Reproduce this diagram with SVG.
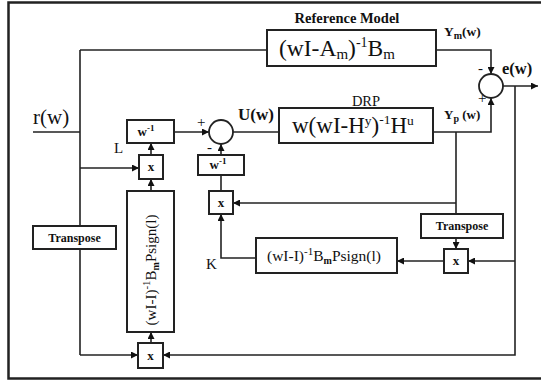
<svg xmlns="http://www.w3.org/2000/svg" width="541" height="381" viewBox="0 0 541 381">
<defs>
<style>
.bx{fill:#fff;stroke:#222;stroke-width:2}
.ln{fill:none;stroke:#222;stroke-width:1.6}
.ar{fill:none;stroke:#222;stroke-width:1.6;marker-end:url(#ah)}
.t{font-family:"Liberation Serif","Times New Roman",serif;fill:#111}
.b{font-weight:bold}
</style>
<marker id="ah" viewBox="0 0 10 10" refX="10" refY="5" markerWidth="7" markerHeight="7" orient="auto" markerUnits="userSpaceOnUse">
<path d="M0,0 L10,5 L0,10 z" fill="#111"/>
</marker>
</defs>
<rect width="541" height="381" fill="#fff"/>
<path d="M541,2.5 H8.5 V378.5 H541" fill="none" stroke="#222" stroke-width="2.5"/>

<g id="connectors">
<path class="ln" d="M33,132 H80 M80,50 V355"/>
<path class="ln" d="M80,50 H267"/>
<path class="ar" d="M80,168 H139"/>
<path class="ar" d="M80,355 H138"/>
<path class="ar" d="M151,155 V143"/>
<path class="ar" d="M151,191 V179"/>
<path class="ar" d="M151,343 V332"/>
<path class="ar" d="M174,132 H209"/>
<path class="ar" d="M221,155 V144"/>
<path class="ln" d="M221,191 V175"/>
<path class="ln" d="M233,132 H279"/>
<path class="ar" d="M433,132 H491 V98"/>
<path class="ar" d="M436,50 H491 V74"/>
<path class="ar" d="M503,86 H538"/>
<path class="ar" d="M515,86 V355 H163"/>
<path class="ar" d="M515,261 H468"/>
<path class="ln" d="M456,132 V214"/>
<path class="ar" d="M456,203 H233"/>
<path class="ar" d="M456,238 V249"/>
<path class="ar" d="M444,261 H397"/>
<path class="ar" d="M256,258 H221 V214"/>
</g>

<g id="input-r">
<text class="t" x="33" y="124" font-size="21">r(w)</text>
</g>

<g id="reference-model">
<rect class="bx" x="267" y="30" width="169" height="36"/>
<text class="t b" x="347" y="23" font-size="14.5" text-anchor="middle">Reference Model</text>
<text class="t" x="279" y="56" font-size="23.5">(wI-A<tspan dy="3" font-size="15">m</tspan><tspan dy="-3">)</tspan><tspan dy="-9" font-size="14">-1</tspan><tspan dy="9">B</tspan><tspan dy="3" font-size="15">m</tspan></text>
</g>

<g id="drp">
<rect class="bx" x="279" y="108" width="154" height="35"/>
<text class="t" x="366" y="106" font-size="14.5" text-anchor="middle">DRP</text>
<text class="t" x="292" y="133" font-size="23">w(wI-H<tspan dy="-8" font-size="13.5">y</tspan><tspan dy="8">)</tspan><tspan dy="-9" font-size="13.5">-1</tspan><tspan dy="9">H</tspan><tspan dy="-8" font-size="13.5">u</tspan></text>
</g>

<g id="sum1">
<circle cx="221" cy="132" r="12" fill="#fff" stroke="#222" stroke-width="1.8"/>
<text class="t" x="197" y="127" font-size="15">+</text>
<text class="t" x="207" y="152" font-size="15">-</text>
<text class="t b" x="238" y="120" font-size="17">U(w)</text>
</g>

<g id="sum2">
<circle cx="491" cy="86" r="12" fill="#fff" stroke="#222" stroke-width="1.8"/>
<text class="t" x="478" y="73" font-size="15">-</text>
<text class="t" x="478" y="103" font-size="15">+</text>
<text class="t b" x="444" y="36" font-size="13.5">Y<tspan dy="3" font-size="10">m</tspan><tspan dy="-3">(w)</tspan></text>
<text class="t b" x="444" y="119" font-size="13">Y<tspan dy="3" font-size="10">p</tspan><tspan dy="-3"> (w)</tspan></text>
<text class="t b" x="502" y="74" font-size="16.5">e(w)</text>
</g>

<g id="w-inv-1">
<rect class="bx" x="127" y="120" width="47" height="23"/>
<text class="t b" x="146" y="136" font-size="13" text-anchor="middle">w<tspan dy="-5" font-size="9">-1</tspan></text>
</g>

<g id="mult-L">
<rect class="bx" x="139" y="155" width="24" height="24"/>
<text class="t b" x="151" y="171" font-size="13" text-anchor="middle">x</text>
<text class="t" x="114" y="153" font-size="15">L</text>
</g>

<g id="gain-L">
<rect class="bx" x="127" y="191" width="47" height="141"/>
<text class="t" transform="translate(156,270) rotate(-90)" font-size="15" text-anchor="middle">(wI-I)<tspan dy="-6" font-size="11">-1</tspan><tspan dy="6">B</tspan><tspan dy="3" font-size="10" font-weight="bold">m</tspan><tspan dy="-3">Psign(l)</tspan></text>
</g>

<g id="mult-bottom">
<rect class="bx" x="138" y="343" width="25" height="25"/>
<text class="t b" x="150.5" y="360" font-size="13" text-anchor="middle">x</text>
</g>

<g id="w-inv-2">
<rect class="bx" x="198" y="155" width="46" height="20"/>
<text class="t b" x="218" y="169" font-size="13" text-anchor="middle">w<tspan dy="-5" font-size="9">-1</tspan></text>
</g>

<g id="mult-K">
<rect class="bx" x="209" y="191" width="24" height="23"/>
<text class="t b" x="221" y="207" font-size="13" text-anchor="middle">x</text>
<text class="t" x="206" y="269" font-size="15">K</text>
</g>

<g id="transpose-left">
<rect class="bx" x="33" y="226" width="83" height="23"/>
<text class="t b" x="74.5" y="242" font-size="12" text-anchor="middle">Transpose</text>
</g>

<g id="transpose-right">
<rect class="bx" x="421" y="214" width="82" height="24"/>
<text class="t b" x="462" y="230" font-size="12" text-anchor="middle">Transpose</text>
</g>

<g id="mult-right">
<rect class="bx" x="444" y="249" width="24" height="24"/>
<text class="t b" x="456" y="265" font-size="13" text-anchor="middle">x</text>
</g>

<g id="gain-K">
<rect class="bx" x="256" y="238" width="141" height="35"/>
<text class="t" x="267" y="261" font-size="15.5">(wI-I)<tspan dy="-6" font-size="11">-1</tspan><tspan dy="6">B</tspan><tspan dy="3" font-size="10" font-weight="bold">m</tspan><tspan dy="-3">Psign(l)</tspan></text>
</g>
</svg>
